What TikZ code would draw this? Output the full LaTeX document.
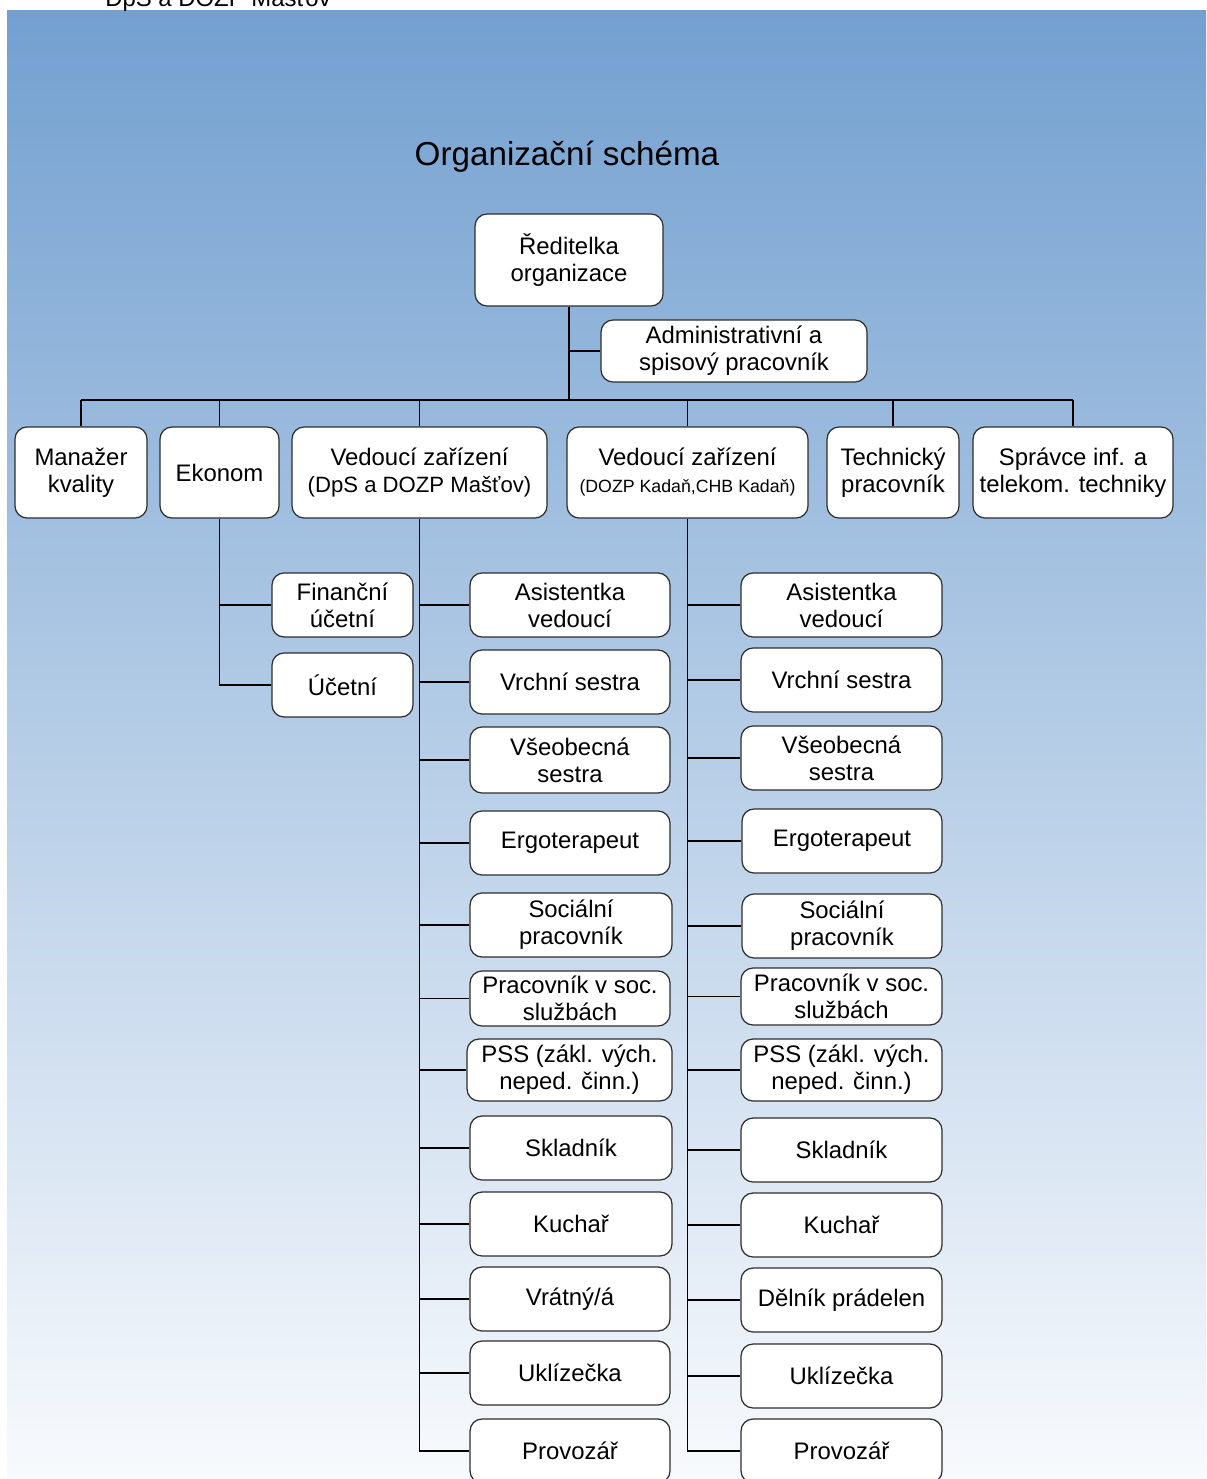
\documentclass[tikz,border=0pt]{standalone}
\usepackage{fontspec}
\setmainfont{Liberation Sans}
\usepackage{tikz}
\usetikzlibrary{positioning}
\definecolor{skytop}{HTML}{73A0D0}
\definecolor{skybottom}{HTML}{F8FAFD}
\definecolor{boxline}{HTML}{2E2E2E}

\begin{document}
\begin{tikzpicture}[x=0.02cm, y=-0.02cm]
\tikzstyle{org} = [rectangle, rounded corners=0.24cm, draw=boxline, fill=white, line width=0.7pt, align=center, inner sep=1pt, font=\fontsize{13.6}{15.4}\selectfont]
\tikzstyle{sub} = [org, minimum width=4cm, minimum height=1.28cm]
\tikzstyle{link} = [draw=black, line width=0.65pt]

% page frame and background
\useasboundingbox (0,0) rectangle (1206,1479);
\clip (0,0) rectangle (1206,1479);
\shade[top color=skytop, bottom color=skybottom] (7,11) rectangle (1206,1479);
\node (pagehead) [anchor=base west, inner sep=0pt, font=\fontsize{13.6}{15.4}\selectfont] at (105,7) {DpS a DOZP Mašťov};
\node (title) [font=\fontsize{18.9}{22}\selectfont] at (567,157) {Organizační schéma};

% top
\node (boss) [org, minimum width=3.76cm, minimum height=1.84cm] at (569,260) {Ředitelka\\organizace};
\node (admin) [org, minimum width=5.32cm, minimum height=1.24cm] at (734,351) {Administrativní a\\spisový pracovník};

% second level
\node (quality) [org, minimum width=2.64cm, minimum height=1.82cm] at (81,472.5) {Manažer\\kvality};
\node (econ) [org, minimum width=2.38cm, minimum height=1.82cm] at (219.5,472.5) {Ekonom};
\node (headA) [org, minimum width=5.10cm, minimum height=1.82cm] at (419.5,472.5) {Vedoucí zařízení\\{\fontsize{12.6}{15}\selectfont (DpS a DOZP Mašťov)}};
\node (headB) [org, minimum width=4.82cm, minimum height=1.82cm] at (687.5,472.5) {Vedoucí zařízení\\{\fontsize{10.1}{12}\selectfont (DOZP Kadaň,CHB Kadaň)}};
\node (tech) [org, minimum width=2.64cm, minimum height=1.82cm] at (893,472.5) {Technický\\pracovník};
\node (ict) [org, minimum width=4.00cm, minimum height=1.82cm] at (1073,472.5) {Správce inf. a\\telekom. techniky};

% economy
\node (fin) [org, minimum width=2.82cm, minimum height=1.28cm] at (342.5,605) {Finanční\\účetní};
\node (acc) [org, minimum width=2.82cm, minimum height=1.28cm] at (342.5,685) {Účetní};

% staff of headA
\node (a1) [sub] at (570,605) {Asistentka\\vedoucí};
\node (a2) [sub] at (570,682) {Vrchní sestra};
\node (a3) [sub, minimum height=1.32cm] at (570,760) {Všeobecná\\sestra};
\node (a4) [sub] at (570,843) {Ergoterapeut};
\node (a5) [sub, minimum width=4.04cm] at (571,925) {Sociální\\pracovník};
\node (a6) [sub, minimum height=1.1cm] at (570,998.5) {Pracovník v soc.\\službách};
\node (a7) [sub, minimum width=4.1cm, minimum height=1.24cm] at (569.5,1070) {PSS (zákl. vých.\\neped. činn.)};
\node (a8) [sub, minimum width=4.04cm] at (571,1148) {Skladník};
\node (a9) [sub, minimum width=4.04cm] at (571,1224) {Kuchař};
\node (a10) [sub] at (570,1299) {Vrátný/á};
\node (a11) [sub] at (570,1373) {Uklízečka};
\node (a12) [sub] at (570,1451) {Provozář};

% staff of headB
\node (b1) [sub, minimum width=4.02cm] at (841.5,605) {Asistentka\\vedoucí};
\node (b2) [sub, minimum width=4.02cm] at (841.5,680) {Vrchní sestra};
\node (b3) [sub, minimum width=4.02cm] at (841.5,758) {Všeobecná\\sestra};
\node (b4) [sub] at (842,841) {Ergoterapeut};
\node (b5) [sub] at (842,926) {Sociální\\pracovník};
\node (b6) [sub, minimum width=4.02cm, minimum height=1.14cm] at (841.5,996.5) {Pracovník v soc.\\službách};
\node (b7) [sub, minimum width=4.02cm, minimum height=1.24cm] at (841.5,1070) {PSS (zákl. vých.\\neped. činn.)};
\node (b8) [sub, minimum width=4.02cm] at (841.5,1150) {Skladník};
\node (b9) [sub, minimum width=4.02cm] at (841.5,1225) {Kuchař};
\node (b10) [sub, minimum width=4.02cm] at (841.5,1300) {Dělník prádelen};
\node (b11) [sub, minimum width=4.02cm] at (841.5,1376) {Uklízečka};
\node (b12) [sub, minimum width=4.02cm] at (841.5,1451) {Provozář};

% connectors from the top
\coordinate (bus) at (569,400);
\draw[link] (boss.south) -- (bus);
\draw[link] (boss.south |- admin.west) -- (admin.west);
\draw[link] (quality.north |- bus) -- (ict.north |- bus);
\draw[link] (quality.north |- bus) -- (quality.north);
\draw[link] (econ.north |- bus) -- (econ.north);
\draw[link] (headA.north |- bus) -- (headA.north);
\draw[link] (headB.north |- bus) -- (headB.north);
\draw[link] (tech.north |- bus) -- (tech.north);
\draw[link] (ict.north |- bus) -- (ict.north);

% economy branch
\draw[link] (econ.south) |- (acc.west);
\draw[link] (econ.south |- fin.west) -- (fin.west);

% facility branches
\draw[link] (headA.south) |- (a12.west);
\draw[link] (headB.south) |- (b12.west);
\foreach \i in {1,...,11} {
  \draw[link] (headA.south |- a\i.west) -- (a\i.west);
  \draw[link] (headB.south |- b\i.west) -- (b\i.west);
}
\end{tikzpicture}
\end{document}
